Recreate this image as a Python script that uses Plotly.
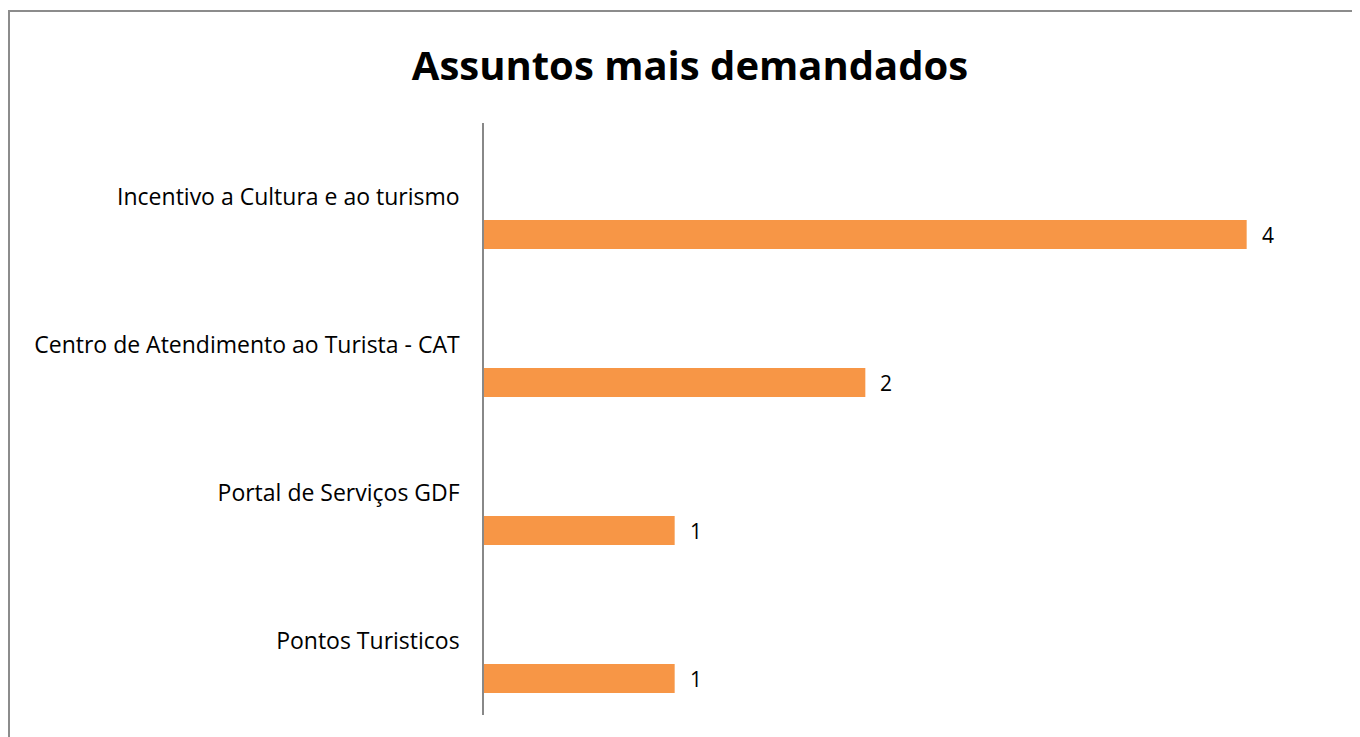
import plotly.graph_objects as go

# data
assuntos = [
    'Incentivo a Cultura e ao turismo',
    'Centro de Atendimento ao Turista - CAT',
    'Portal de Serviços GDF',
    'Pontos Turisticos',
]
quantidade = [4, 2, 1, 1]

bar_color = '#F79646'
font_ = 'Open Sans'

# page has an 8px body margin, so the figure is a bit smaller than the window
W, H = 1352, 729
L, R, T, B = 476, 18, 115, 22
pw, ph = W - L - R, H - T - B

fig = go.Figure()

fig.add_trace(go.Bar(
    x=quantidade,
    y=assuntos,
    orientation='h',
    marker=dict(color=bar_color, line=dict(width=0)),
    width=0.196,
    offset=0.155,
    hoverinfo='x+y',
))

# data labels to the right of each bar
annotations = []
for cat, val in zip(assuntos, quantidade):
    annotations.append(dict(x=val, y=cat, xref='x', yref='y',
                            text=str(val), showarrow=False,
                            xanchor='left', yanchor='middle',
                            xshift=13, yshift=-38,
                            font=dict(family=font_, size=21, color='#000000')))

fig.update_layout(
    width=W,
    height=H,
    autosize=False,
    margin=dict(l=L, r=R, t=T, b=B, autoexpand=False),
    plot_bgcolor='white',
    paper_bgcolor='white',
    showlegend=False,
    title=dict(text='<b>Assuntos mais demandados</b>',
               x=682 / W, xanchor='center',
               y=1 - 58 / H, yanchor='middle',
               font=dict(family=font_, size=40, color='#000000')),
    xaxis=dict(range=[0, 4.5], visible=False, showgrid=False, zeroline=False),
    yaxis=dict(
        type='category',
        categoryorder='array',
        categoryarray=assuntos,
        autorange='reversed',
        showline=True,
        linecolor='#888888',
        linewidth=1.5,
        showgrid=False,
        zeroline=False,
        ticks='',
        ticklabelstandoff=18,
        tickfont=dict(family=font_, size=23, color='#000000'),
    ),
    annotations=annotations,
    shapes=[dict(type='rect', xref='paper', yref='paper',
                 x0=(1 - L) / pw, x1=(W + 20 - L) / pw,
                 y0=-40 / ph, y1=(ph + T - 3) / ph,
                 line=dict(color='#8c8c8c', width=2),
                 fillcolor='rgba(0,0,0,0)', layer='below')],
)

fig.write_html('out.html')
